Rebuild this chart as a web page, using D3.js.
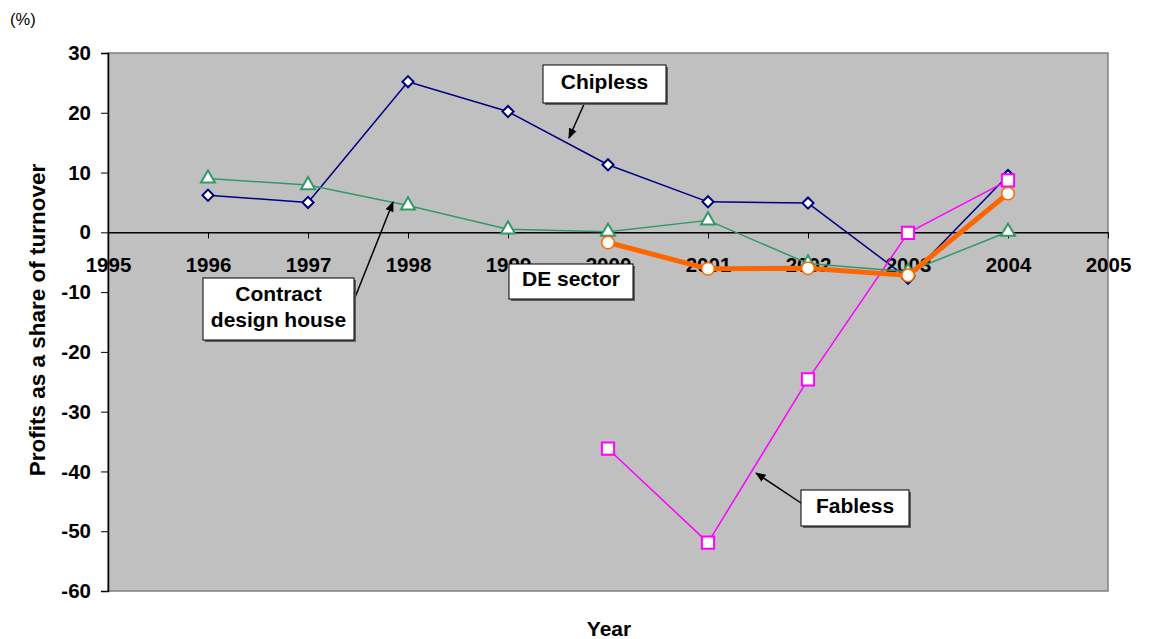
<!DOCTYPE html>
<html>
<head>
<meta charset="utf-8">
<script src="https://cdn.jsdelivr.net/npm/d3@7"></script>
<style>
  body { margin: 0; background: #fff; }
  text { font-family: "Liberation Sans", Arial, sans-serif; }
</style>
</head>
<body>
<svg id="chart" width="1150" height="639"></svg>
<script>
'use strict';

const years = [1996, 1997, 1998, 1999, 2000, 2001, 2002, 2003, 2004];
const chipless = [6.2, 5.0, 25.2, 20.2, 11.3, 5.1, 4.9, -7.7, 9.5];
const contractDesign = [9.0, 7.9, 4.5, 0.5, 0.1, 2.0, -5.2, -6.6, 0.1];
const deSector = [null, null, null, null, -1.7, -6.1, -6.0, -7.2, 6.5];
const fabless = [null, null, null, null, -36.2, -51.9, -24.6, -0.1, 8.7];
const xTicks = [1995, 1996, 1997, 1998, 1999, 2000, 2001, 2002, 2003, 2004, 2005];
const yTicks = [30, 20, 10, 0, -10, -20, -30, -40, -50, -60];

const PLOT = { left: 108, right: 1108, top: 53, bottom: 591 };
const FONT = '"Liberation Sans", Arial, sans-serif';

const svg = d3.select('#chart');
const x = d3.scaleLinear().domain([1995, 2005]).range([PLOT.left, PLOT.right]);
const y = d3.scaleLinear().domain([-60, 30]).range([PLOT.bottom, PLOT.top]);

// plot background
svg.append('rect')
    .attr('x', PLOT.left).attr('y', PLOT.top)
    .attr('width', PLOT.right - PLOT.left).attr('height', PLOT.bottom - PLOT.top)
    .attr('fill', '#c0c0c0').attr('stroke', '#808080').attr('stroke-width', 1.5);

// y axis
const yAxis = svg.append('g')
    .attr('transform', `translate(${PLOT.left},0)`)
    .call(d3.axisLeft(y).tickValues(yTicks).tickFormat(d => String(d)).tickSize(7).tickPadding(10));
yAxis.select('.domain').attr('stroke', '#000').attr('stroke-width', 1.5);
yAxis.selectAll('.tick line').attr('stroke', '#000');
yAxis.selectAll('text')
    .attr('font-size', 20.5).attr('font-weight', 'bold').attr('fill', '#000')
    .style('font-family', FONT);

// x axis sits on the zero line
const xAxis = svg.append('g')
    .attr('transform', `translate(0,${y(0)})`)
    .call(d3.axisBottom(x).tickValues(xTicks).tickFormat(d => String(d)).tickSize(6).tickPadding(19).tickSizeOuter(0));
xAxis.select('.domain').attr('stroke', '#000').attr('stroke-width', 1.5);
xAxis.selectAll('.tick line').attr('stroke', '#000');
xAxis.selectAll('text')
    .attr('font-size', 20.5).attr('font-weight', 'bold').attr('fill', '#000')
    .style('font-family', FONT);

const series = [
    { name: 'Chipless', values: chipless, color: '#000080', width: 1.5, symbol: d3.symbolSquare, size: 62, rotate: 45 },
    { name: 'Fabless', values: fabless, color: '#ff00ff', width: 1.5, symbol: d3.symbolSquare, size: 150, rotate: 0 },
    { name: 'Contract design house', values: contractDesign, color: '#339966', width: 1.5, symbol: d3.symbolTriangle, size: 85, rotate: 0 },
    { name: 'DE sector', values: deSector, color: '#ff6600', width: 5, symbol: d3.symbolCircle, size: 125, rotate: 0 }
];

const line = d3.line()
    .defined(d => d.v !== null)
    .x(d => x(d.year))
    .y(d => y(d.v));

series.forEach(s => {
    const pts = years.map((year, i) => ({ year, v: s.values[i] }));
    svg.append('path')
        .datum(pts)
        .attr('fill', 'none')
        .attr('stroke', s.color)
        .attr('stroke-width', s.width)
        .attr('stroke-linejoin', 'round')
        .attr('d', line);
    svg.append('g').selectAll('path')
        .data(pts.filter(d => d.v !== null))
        .join('path')
        .attr('transform', d => `translate(${x(d.year)},${y(d.v)}) rotate(${s.rotate})`)
        .attr('d', d3.symbol().type(s.symbol).size(s.size))
        .attr('fill', '#fff')
        .attr('stroke', s.color)
        .attr('stroke-width', s.name === 'DE sector' ? 1.5 : 2);
});

// callouts
svg.append('defs').append('marker')
    .attr('id', 'arrow')
    .attr('viewBox', '0 0 10 10')
    .attr('refX', 9).attr('refY', 5)
    .attr('markerWidth', 7).attr('markerHeight', 7)
    .attr('orient', 'auto')
    .append('path').attr('d', 'M0,1 L10,5 L0,9 Z').attr('fill', '#000');

const arrows = [
    [585, 102, 569, 138],
    [354, 300, 393, 202],
    [801, 503, 756, 473]
];
arrows.forEach(a => {
    svg.append('line')
        .attr('x1', a[0]).attr('y1', a[1]).attr('x2', a[2]).attr('y2', a[3])
        .attr('stroke', '#000').attr('stroke-width', 1.5)
        .attr('marker-end', 'url(#arrow)');
});

const boxes = [
    { lines: ['Chipless'], x: 543, y: 65, w: 123, h: 38 },
    { lines: ['Contract', 'design house'], x: 203, y: 278, w: 151, h: 62 },
    { lines: ['DE sector'], x: 509, y: 264, w: 124, h: 35 },
    { lines: ['Fabless'], x: 801, y: 490, w: 108, h: 36 }
];
boxes.forEach(b => {
    svg.append('rect')
        .attr('x', b.x + 2).attr('y', b.y + 2).attr('width', b.w).attr('height', b.h)
        .attr('fill', '#606060');
    svg.append('rect')
        .attr('x', b.x).attr('y', b.y).attr('width', b.w).attr('height', b.h)
        .attr('fill', '#fff').attr('stroke', '#000').attr('stroke-width', 1);
    const lh = 26;
    const start = b.y + b.h / 2 - (b.lines.length - 1) * lh / 2 + 4.5;
    b.lines.forEach((t, i) => {
        svg.append('text')
            .attr('x', b.x + b.w / 2).attr('y', start + i * lh)
            .attr('text-anchor', 'middle')
            .attr('font-size', 21).attr('font-weight', 'bold')
            .text(t);
    });
});

// titles
svg.append('text')
    .attr('x', 10).attr('y', 25)
    .attr('font-size', 16.5)
    .text('(%)');

svg.append('text')
    .attr('transform', 'translate(45,320) rotate(-90)')
    .attr('text-anchor', 'middle')
    .attr('font-size', 22.5).attr('font-weight', 'bold')
    .text('Profits as a share of turnover');

svg.append('text')
    .attr('x', 609).attr('y', 636)
    .attr('text-anchor', 'middle')
    .attr('font-size', 21).attr('font-weight', 'bold')
    .text('Year');
</script>
</body>
</html>
